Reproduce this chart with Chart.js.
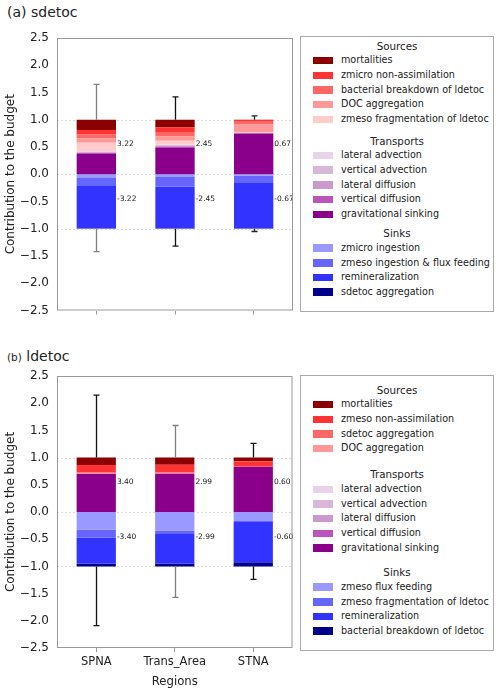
<!DOCTYPE html>
<html>
<head>
<meta charset="utf-8">
<script src="https://cdn.jsdelivr.net/npm/chart.js@4.4.1/dist/chart.umd.min.js"></script>
<style>
  body { margin: 0; width: 500px; height: 694px; position: relative; background: #fff;
         font-family: "DejaVu Sans", sans-serif; color: #222; overflow: hidden; }
  canvas { position: absolute; left: 0; }
  .ptitle { position: absolute; left: 7px; font-size: 14px; line-height: 16px; }
  .ptitle small { font-size: 10.5px; }
  .legend { position: absolute; left: 300px; width: 194px; height: 276px;
            border: 1px solid #aaa; box-sizing: border-box; }
  .legend .hd { height: 14.7px; line-height: 14.7px; text-align: center; font-size: 10.3px; }
  .legend .it { height: 14.7px; line-height: 14.7px; font-size: 9.6px; position: relative;
                padding-left: 40px; white-space: nowrap; }
  .legend .sw { position: absolute; left: 12px; top: 3.6px; width: 20px; height: 7.5px; }
</style>
</head>
<body>
<div class="ptitle" style="top:4px">(a) sdetoc</div>
<canvas id="chartA" width="300" height="330" style="top:0"></canvas>
<div class="legend" id="legendA" style="top:36px"></div>

<div class="ptitle" style="top:348px"><small>(b)</small> ldetoc</div>
<canvas id="chartB" width="300" height="354" style="top:340px"></canvas>
<div class="legend" id="legendB" style="top:375px"></div>

<script>
const regions = ['SPNA', 'Trans_Area', 'STNA'];
const yTicks = [2.5, 2.0, 1.5, 1.0, 0.5, 0.0, -0.5, -1.0, -1.5, -2.0, -2.5];
const gridValues = [1, 0, -1];
const transportNames = ['lateral advection', 'vertical advection', 'lateral diffusion',
                        'vertical diffusion', 'gravitational sinking'];

// (a) sdetoc
const sdSourceNames = ['mortalities', 'zmicro non-assimilation', 'bacterial breakdown of ldetoc',
                       'DOC aggregation', 'zmeso fragmentation of ldetoc'];
const sdMortalities   = [0.19, 0.14, 0.005];
const sdZmicroNonAss  = [0.075, 0.085, 0.02];
const sdBactBreakdown = [0.075, 0.08, 0.06];
const sdDocAgg        = [0.08, 0.08, 0.14];
const sdZmesoFrag     = [0.16, 0.075, 0.02];
const sdLatAdv   = [0.005, 0.005, 0.0];
const sdVertAdv  = [0.01, 0.01, 0.005];
const sdLatDiff  = [0.015, 0.015, 0.0];
const sdVertDiff = [0.02, 0.02, 0.0];
const sdGravSink = [0.37, 0.49, 0.75];
const sdSinkNames = ['zmicro ingestion', 'zmeso ingestion & flux feeding', 'remineralization',
                     'sdetoc aggregation'];
const sdZmicroIngest = [-0.07, -0.05, -0.025];
const sdZmesoIngest  = [-0.13, -0.18, -0.12];
const sdRemin        = [-0.795, -0.765, -0.85];
const sdSdetocAgg    = [-0.005, -0.005, -0.005];
const sdTotals  = [3.22, 2.45, 0.67];
const sdErrHigh = [1.65, 1.42, 1.07];
const sdErrLow  = [-1.42, -1.32, -1.05];

// (b) ldetoc
const ldSourceNames = ['mortalities', 'zmeso non-assimilation', 'sdetoc aggregation', 'DOC aggregation'];
const ldMortalities  = [0.135, 0.13, 0.065];
const ldZmesoNonAss  = [0.14, 0.145, 0.09];
const ldSdetocAgg    = [0.015, 0.01, 0.015];
const ldDocAgg       = [0.005, 0.005, 0.0];
const ldLatAdv   = [0, 0, 0];
const ldVertAdv  = [0, 0, 0];
const ldLatDiff  = [0, 0, 0];
const ldVertDiff = [0.005, 0.005, 0.0];
const ldGravSink = [0.70, 0.705, 0.83];
const ldSinkNames = ['zmeso flux feeding', 'zmeso fragmentation of ldetoc', 'remineralization',
                     'bacterial breakdown of ldetoc'];
const ldZmesoFlux  = [-0.32, -0.34, -0.165];
const ldZmesoFrag  = [-0.15, -0.05, -0.005];
const ldRemin      = [-0.48, -0.555, -0.755];
const ldBactBreak  = [-0.05, -0.055, -0.075];
const ldTotals  = [3.40, 2.99, 0.60];
const ldErrHigh = [2.15, 1.59, 1.26];
const ldErrLow  = [-2.09, -1.57, -1.24];

// colours
const sourceColors = ['#8b0000', '#ff3333', '#ff6666', '#ff9999', '#ffcccc'];
const transportColors = ['#e8d4e8', '#d8b8d8', '#cc99cc', '#bb55bb', '#8b008b'];
const sinkColors = ['#9999ff', '#6666ff', '#3333ff', '#00008b'];

Chart.defaults.font.family = '"DejaVu Sans", sans-serif';
Chart.defaults.color = '#222';

const extras = {
  id: 'budgetExtras',
  beforeDatasetsDraw(chart) {
    const { ctx, chartArea: a, scales: { y } } = chart;
    ctx.save();
    ctx.strokeStyle = '#d4d4d4';
    ctx.lineWidth = 0.8;
    ctx.setLineDash([2, 2]);
    gridValues.forEach(v => {
      const py = Math.round(y.getPixelForValue(v)) + 0.5;
      ctx.beginPath(); ctx.moveTo(a.left, py); ctx.lineTo(a.right, py); ctx.stroke();
    });
    ctx.restore();
  },
  afterDatasetsDraw(chart, args, opts) {
    const { ctx, chartArea: a, scales: { x, y } } = chart;
    const meta = chart.getDatasetMeta(0);
    ctx.save();
    // error whiskers
    ctx.lineWidth = 1.3;
    opts.high.forEach((hi, i) => {
      const cx = Math.round(x.getPixelForValue(i)) + 0.5;
      const segs = [[1, hi], [-1, opts.low[i]]];
      ctx.strokeStyle = opts.whisker[i];
      segs.forEach(([from, to]) => {
        const p0 = y.getPixelForValue(from), p1 = y.getPixelForValue(to);
        ctx.beginPath();
        ctx.moveTo(cx, p0); ctx.lineTo(cx, p1);
        ctx.moveTo(cx - 3, p1); ctx.lineTo(cx + 3, p1);
        ctx.stroke();
      });
    });
    // total labels
    ctx.font = '7.5px "DejaVu Sans"';
    ctx.fillStyle = '#222';
    ctx.textBaseline = 'middle';
    opts.totals.forEach((t, i) => {
      const bar = meta.data[i];
      const rx = bar.x + bar.width / 2 + 1;
      ctx.fillText(t.toFixed(2), rx, y.getPixelForValue(0.55));
      ctx.fillText('-' + t.toFixed(2), rx, y.getPixelForValue(-0.46));
    });
    // frame
    ctx.strokeStyle = '#999';
    ctx.lineWidth = 1;
    ctx.strokeRect(a.left + 0.5, a.top + 0.5, a.width - 1, a.height - 1);
    ctx.restore();
  }
};

function makeChart(id, cfg) {
  // positive parts stack upward from gravitational sinking to the first source
  const posNames = cfg.sourceNames.concat(transportNames);
  const posColors = sourceColors.slice(0, cfg.sourceNames.length).concat(transportColors);
  const posValues = cfg.sources.concat(cfg.transports);
  const datasets = [];
  for (let k = posNames.length - 1; k >= 0; k--) {
    datasets.push({ label: posNames[k], data: posValues[k], backgroundColor: posColors[k] });
  }
  cfg.sinks.forEach((vals, k) => {
    datasets.push({ label: cfg.sinkNames[k], data: vals, backgroundColor: sinkColors[k] });
  });
  datasets.forEach(d => { d.borderWidth = 0; d.barPercentage = 0.5; d.categoryPercentage = 1.0; });

  return new Chart(document.getElementById(id), {
    type: 'bar',
    data: { labels: regions, datasets },
    plugins: [extras],
    options: {
      responsive: false,
      animation: false,
      layout: { padding: { top: cfg.padTop, right: cfg.padRight, left: 0, bottom: 0 } },
      plugins: {
        legend: { display: false },
        tooltip: { enabled: false },
        budgetExtras: { totals: cfg.totals, high: cfg.high, low: cfg.low, whisker: cfg.whisker }
      },
      scales: {
        x: {
          stacked: true,
          afterFit: s => { s.height = cfg.xHeight; },
          grid: { display: true, drawOnChartArea: false, drawTicks: true, tickLength: 4,
                  color: '#999', offset: false },
          border: { display: false },
          ticks: {
            display: cfg.showX, padding: 3, color: '#222', font: { size: 11.5 }
          },
          title: { display: cfg.showX, text: 'Regions', font: { size: 11.7 },
                   padding: { top: 5, bottom: 5 } }
        },
        y: {
          stacked: true,
          min: -2.5, max: 2.5,
          afterFit: s => { s.width = 57; },
          afterBuildTicks: s => { s.ticks = yTicks.map(v => ({ value: v })); },
          grid: { display: false, drawTicks: false },
          border: { display: false },
          ticks: {
            padding: 8, color: '#222', font: { size: 12 },
            callback: v => v.toFixed(1).replace('-', '\u2212')
          },
          title: { display: true, text: 'Contribution to the budget', font: { size: 12 } }
        }
      }
    }
  });
}

function makeLegend(id, sourceNames, sinkNames, cfg) {
  const box = document.getElementById(id);
  box.style.paddingTop = cfg.padTop + 'px';
  const sections = [
    ['Sources', sourceNames, sourceColors],
    ['Transports', transportNames, transportColors],
    ['Sinks', sinkNames, sinkColors]
  ];
  sections.forEach(([title, names, colors], s) => {
    const hd = document.createElement('div');
    hd.className = 'hd';
    hd.textContent = title;
    if (s > 0) hd.style.marginTop = cfg.gaps[s - 1] + 'px';
    box.appendChild(hd);
    names.forEach((n, k) => {
      const it = document.createElement('div');
      it.className = 'it';
      const sw = document.createElement('span');
      sw.className = 'sw';
      sw.style.background = colors[k];
      it.appendChild(sw);
      it.appendChild(document.createTextNode(n));
      box.appendChild(it);
    });
  });
}

makeChart('chartA', {
  sourceNames: sdSourceNames,
  sources: [sdMortalities, sdZmicroNonAss, sdBactBreakdown, sdDocAgg, sdZmesoFrag],
  transports: [sdLatAdv, sdVertAdv, sdLatDiff, sdVertDiff, sdGravSink],
  sinkNames: sdSinkNames,
  sinks: [sdZmicroIngest, sdZmesoIngest, sdRemin, sdSdetocAgg],
  totals: sdTotals, high: sdErrHigh, low: sdErrLow,
  whisker: ['#808080', '#111', '#222'],
  padTop: 38, padRight: 7, xHeight: 19.5, showX: false
});
makeLegend('legendA', sdSourceNames, sdSinkNames, { padTop: 1.6, gaps: [6.8, 4.5] });

makeChart('chartB', {
  sourceNames: ldSourceNames,
  sources: [ldMortalities, ldZmesoNonAss, ldSdetocAgg, ldDocAgg],
  transports: [ldLatAdv, ldVertAdv, ldLatDiff, ldVertDiff, ldGravSink],
  sinkNames: ldSinkNames,
  sinks: [ldZmesoFlux, ldZmesoFrag, ldRemin, ldBactBreak],
  totals: ldTotals, high: ldErrHigh, low: ldErrLow,
  whisker: ['#111', '#808080', '#111'],
  padTop: 36, padRight: 7.5, xHeight: 46, showX: true
});
makeLegend('legendB', ldSourceNames, ldSinkNames, { padTop: 6.6, gaps: [11.2, 9.8] });
</script>
</body>
</html>
